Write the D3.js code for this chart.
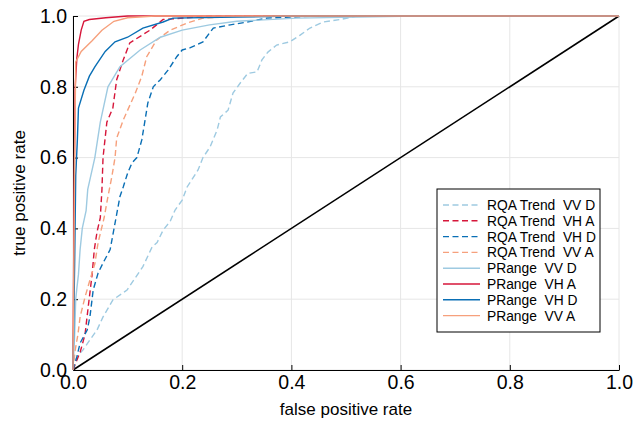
<!DOCTYPE html>
<html>
<head>
<meta charset="utf-8">
<script src="https://cdn.jsdelivr.net/npm/d3@7"></script>
<style>
  body { margin: 0; background: #fff; }
  svg text { font-family: "Liberation Sans", Arial, sans-serif; }
</style>
</head>
<body>
<div id="chart"></div>
<script>
// series names, in legend order
const seriesNames = [
  "RQA Trend  VV D", "RQA Trend  VH A", "RQA Trend  VH D", "RQA Trend  VV A",
  "PRange  VV D", "PRange  VH A", "PRange  VH D", "PRange  VV A"
];

// ROC points [false positive rate, true positive rate]
const rqaVVD = [[0,0],[0.007,0.037],[0.018,0.056],[0.031,0.085],[0.044,0.113],[0.055,0.15],[0.073,0.198],
  [0.099,0.226],[0.128,0.292],[0.145,0.348],[0.154,0.36],[0.165,0.395],[0.178,0.42],[0.187,0.452],[0.2,0.48],
  [0.209,0.517],[0.229,0.565],[0.238,0.6],[0.251,0.63],[0.264,0.678],[0.27,0.715],[0.284,0.734],[0.293,0.782],
  [0.306,0.81],[0.32,0.838],[0.337,0.842],[0.346,0.876],[0.357,0.898],[0.373,0.918],[0.397,0.927],[0.416,0.946],
  [0.434,0.966],[0.458,0.983],[0.489,0.99],[0.52,1],[1,1]];
const rqaVHA = [[0,0],[0.005,0.02],[0.013,0.05],[0.022,0.1],[0.028,0.18],[0.035,0.27],[0.039,0.34],[0.044,0.39],
  [0.05,0.43],[0.053,0.51],[0.055,0.6],[0.062,0.7],[0.073,0.74],[0.08,0.82],[0.092,0.876],[0.104,0.924],
  [0.141,0.96],[0.165,0.99],[0.25,1],[1,1]];
const rqaVHD = [[0,0],[0.007,0.037],[0.013,0.076],[0.026,0.113],[0.031,0.15],[0.037,0.226],[0.046,0.274],
  [0.055,0.302],[0.068,0.34],[0.077,0.415],[0.086,0.49],[0.092,0.517],[0.1,0.556],[0.108,0.585],[0.117,0.6],
  [0.126,0.65],[0.132,0.706],[0.137,0.754],[0.147,0.8],[0.16,0.82],[0.174,0.847],[0.19,0.885],[0.2,0.904],
  [0.214,0.91],[0.238,0.927],[0.257,0.966],[0.288,0.975],[0.319,0.983],[0.355,0.994],[0.403,0.997],[0.45,1],[1,1]];
const rqaVVA = [[0,0],[0.004,0.056],[0.009,0.1],[0.013,0.15],[0.022,0.206],[0.031,0.254],[0.04,0.3],
  [0.046,0.36],[0.057,0.43],[0.064,0.49],[0.071,0.545],[0.077,0.6],[0.08,0.655],[0.092,0.706],[0.114,0.782],
  [0.126,0.83],[0.135,0.885],[0.153,0.932],[0.178,0.96],[0.209,0.98],[0.238,0.994],[0.3,1],[1,1]];
const prVVD = [[0,0],[0.003,0.1],[0.005,0.2],[0.007,0.23],[0.01,0.27],[0.013,0.34],[0.017,0.4],[0.024,0.45],
  [0.027,0.51],[0.04,0.6],[0.05,0.7],[0.064,0.8],[0.086,0.857],[0.123,0.904],[0.16,0.94],[0.2,0.96],
  [0.25,0.975],[0.3,0.985],[0.41,0.994],[0.63,1],[1,1]];
const prVHA = [[0,0],[0.002,0.5],[0.004,0.8],[0.007,0.88],[0.01,0.92],[0.015,0.96],[0.02,0.985],[0.03,0.99],
  [0.06,0.995],[0.1,1],[1,1]];
const prVHD = [[0,0],[0.003,0.3],[0.005,0.55],[0.008,0.65],[0.01,0.74],[0.02,0.79],[0.03,0.83],[0.04,0.856],
  [0.059,0.9],[0.077,0.927],[0.1,0.94],[0.128,0.966],[0.165,0.983],[0.183,0.994],[0.3,0.997],[0.4,1],[1,1]];
const prVVA = [[0,0],[0.003,0.6],[0.005,0.87],[0.015,0.9],[0.035,0.93],[0.053,0.96],[0.075,0.985],[0.1,0.995],
  [0.15,1],[1,1]];

const seriesData = [rqaVVD, rqaVHA, rqaVHD, rqaVVA, prVVD, prVHA, prVHD, prVVA];
const seriesColors = ["#9ecae1", "#d6163a", "#0a6fb5", "#f6a07c", "#9ecae1", "#d6163a", "#0a6fb5", "#f6a07c"];
const seriesDashed = [true, true, true, true, false, false, false, false];

const tickValues = [0, 0.2, 0.4, 0.6, 0.8, 1.0];

// margin conventions
const margin = { top: 16, right: 25, bottom: 52, left: 73 };
const width = 644 - margin.left - margin.right;
const height = 422 - margin.top - margin.bottom;

const svg = d3.select("#chart")
  .append("svg")
  .attr("width", 644)
  .attr("height", 422)
  .append("g")
  .attr("transform", "translate(" + margin.left + "," + margin.top + ")");

const x = d3.scaleLinear().domain([0, 1]).range([0, width]);
const y = d3.scaleLinear().domain([0, 1]).range([height, 0]);

// grid
svg.append("g")
  .selectAll("line.vg")
  .data(tickValues)
  .join("line")
  .attr("x1", d => x(d)).attr("x2", d => x(d))
  .attr("y1", 0).attr("y2", height)
  .attr("stroke", "#e6e6e6").attr("stroke-width", 1);
svg.append("g")
  .selectAll("line.hg")
  .data(tickValues)
  .join("line")
  .attr("x1", 0).attr("x2", width)
  .attr("y1", d => y(d)).attr("y2", d => y(d))
  .attr("stroke", "#e6e6e6").attr("stroke-width", 1);

// axes, ticks pointing inward
const xAxis = svg.append("g")
  .attr("transform", "translate(0," + height + ")")
  .call(d3.axisBottom(x).tickValues(tickValues).tickFormat(d3.format(".1f")).tickSizeInner(-5).tickSizeOuter(0).tickPadding(5));
const yAxis = svg.append("g")
  .call(d3.axisLeft(y).tickValues(tickValues).tickFormat(d3.format(".1f")).tickSizeInner(-5).tickSizeOuter(0).tickPadding(6));

[xAxis, yAxis].forEach(a => {
  a.select(".domain").attr("stroke", "#000");
  a.selectAll(".tick line").attr("stroke", "#000");
  a.selectAll("text").attr("font-size", 19.5).attr("fill", "#000")
    .style("font-family", "'Liberation Sans', Arial, sans-serif");
});

// diagonal
svg.append("line")
  .attr("x1", x(0)).attr("y1", y(0))
  .attr("x2", x(1)).attr("y2", y(1))
  .attr("stroke", "#000").attr("stroke-width", 1.6);

// curves
const line = d3.line().x(d => x(d[0])).y(d => y(d[1]));
svg.append("g")
  .selectAll("path")
  .data(seriesData)
  .join("path")
  .attr("d", d => line(d))
  .attr("fill", "none")
  .attr("stroke", (d, i) => seriesColors[i])
  .attr("stroke-width", 1.4)
  .attr("stroke-dasharray", (d, i) => seriesDashed[i] ? "6,3.5" : null);

// axis titles
svg.append("text")
  .attr("x", width / 2).attr("y", height + 45)
  .attr("text-anchor", "middle").attr("font-size", 17)
  .text("false positive rate");
svg.append("text")
  .attr("transform", "translate(" + (-48) + "," + (height / 2) + ")rotate(-90)")
  .attr("text-anchor", "middle").attr("font-size", 17)
  .text("true positive rate");

// legend
const legend = svg.append("g")
  .attr("transform", "translate(" + (437 - margin.left) + "," + (189 - margin.top) + ")");
legend.append("rect")
  .attr("width", 163).attr("height", 143)
  .attr("fill", "#fff").attr("stroke", "#000").attr("stroke-width", 1);
const items = legend.selectAll("g.item")
  .data(seriesNames)
  .join("g")
  .attr("transform", (d, i) => "translate(0," + (16 + i * 15.8) + ")");
items.append("line")
  .attr("x1", 6).attr("x2", 43)
  .attr("stroke", (d, i) => seriesColors[i])
  .attr("stroke-width", 1.4)
  .attr("stroke-dasharray", (d, i) => seriesDashed[i] ? "6,3.5" : null);
items.append("text")
  .attr("x", 50).attr("y", 5)
  .attr("font-size", 13.8)
  .style("white-space", "pre")
  .text(d => d);
</script>
</body>
</html>
